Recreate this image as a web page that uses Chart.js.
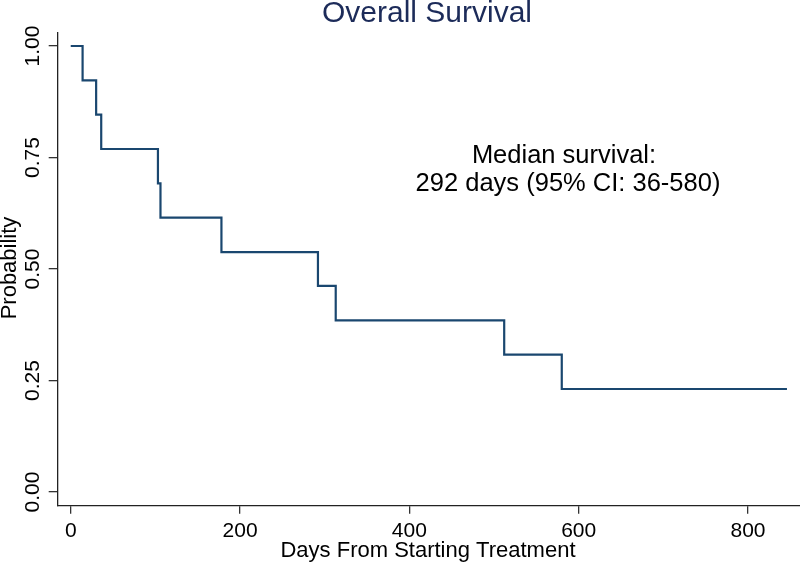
<!DOCTYPE html>
<html>
<head>
<meta charset="utf-8">
<script src="https://cdn.jsdelivr.net/npm/chart.js@4"></script>
<style>
  body { margin: 0; background: #fff; }
  #wrap { width: 800px; height: 564px; }
</style>
</head>
<body>
<div id="wrap"><canvas id="km"></canvas></div>
<script>
// Kaplan-Meier estimate
const days = [0, 14, 30, 36, 103, 106, 178, 292, 313, 512, 580, 846];
const surv = [1, 0.923, 0.846, 0.769, 0.692, 0.615, 0.538, 0.462, 0.385, 0.308, 0.231, 0.231];
const xTicks = [0, 200, 400, 600, 800];
const yTicks = [0, 0.25, 0.5, 0.75, 1];
const yTickLabels = ["0.00", "0.25", "0.50", "0.75", "1.00"];

const font = "Liberation Sans, Arial, sans-serif";

// titles, rotated y labels and the median note
const textPlugin = {
  id: "texts",
  afterDraw(chart) {
    const ctx = chart.ctx;
    const y = chart.scales.y;
    ctx.save();
    ctx.fillStyle = "#000";
    ctx.textAlign = "center";
    ctx.textBaseline = "middle";
    ctx.font = "21px " + font;
    yTicks.forEach((v, i) => {
      ctx.save();
      ctx.translate(33, y.getPixelForValue(v));
      ctx.rotate(-Math.PI / 2);
      ctx.fillText(yTickLabels[i], 0, 0);
      ctx.restore();
    });

    ctx.font = "22px " + font;
    ctx.save();
    ctx.translate(10, 268);
    ctx.rotate(-Math.PI / 2);
    ctx.fillText("Probability", 0, 0);
    ctx.restore();
    ctx.fillText("Days From Starting Treatment", 428, 551);

    ctx.textBaseline = "alphabetic";
    ctx.font = "25.5px " + font;
    ctx.fillText("Median survival:", 564, 163);
    ctx.fillText("292 days (95% CI: 36-580)", 568, 191);

    ctx.fillStyle = "#1c2b59";
    ctx.font = "30px " + font;
    ctx.fillText("Overall Survival", 427, 22);
    ctx.restore();
  }
};

new Chart(document.getElementById("km"), {
  type: "line",
  data: {
    datasets: [
      {
        label: "Survival",
        data: days.map((d, i) => ({ x: d, y: surv[i] })),
        stepped: true,
        borderColor: "#1a476f",
        borderWidth: 2.2,
        pointRadius: 0,
        fill: false,
      },
    ],
  },
  options: {
    responsive: true,
    maintainAspectRatio: false,
    animation: false,
    layout: { padding: { top: 32.3, right: 0, left: 0, bottom: 0 } },
    plugins: { legend: { display: false }, tooltip: { enabled: false }, title: { display: false } },
    scales: {
      x: {
        type: "linear",
        min: -15.4,
        max: 861.4,
        afterBuildTicks: (s) => { s.ticks = xTicks.map((v) => ({ value: v })); },
        afterFit: (s) => { s.height = 58.3; },
        ticks: { color: "#000", font: { size: 21, family: font }, padding: 5, maxRotation: 0 },
        grid: { drawOnChartArea: false, tickLength: 8, color: "#333", lineWidth: 1.3 },
        border: { color: "#222", width: 1.3 },
      },
      y: {
        min: -0.0307,
        max: 1.0307,
        afterBuildTicks: (s) => { s.ticks = yTicks.map((v) => ({ value: v })); },
        afterFit: (s) => { s.width = 57.7; },
        ticks: { color: "rgba(0,0,0,0)", font: { size: 21, family: font } },
        grid: { drawOnChartArea: false, tickLength: 9, color: "#333", lineWidth: 1.3 },
        border: { color: "#222", width: 1.3 },
      },
    },
  },
  plugins: [textPlugin],
});
</script>
</body>
</html>
